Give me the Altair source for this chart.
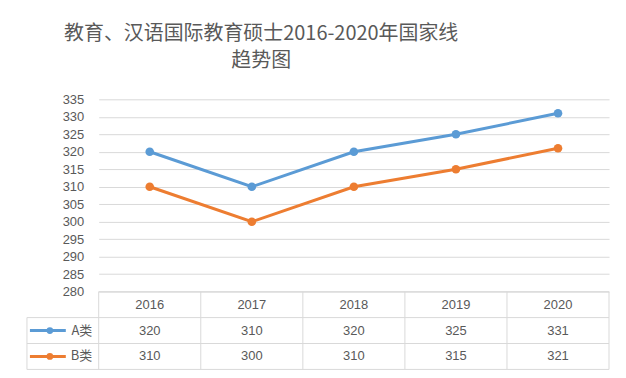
import altair as alt
import pandas as pd

years = ["2016", "2017", "2018", "2019", "2020"]
series_names = ["A类", "B类"]
a_vals = [320, 310, 320, 325, 331]
b_vals = [310, 300, 310, 315, 321]
y_ticks = [280, 285, 290, 295, 300, 305, 310, 315, 320, 325, 330, 335]
row_domain = ["header", "A类", "B类"]
title_lines = ["教育、汉语国际教育硕士2016-2020年国家线", "趋势图"]

colors = ["#5b9bd5", "#ed7d31"]
grid_c = "#d9d9d9"
txt_c = "#595959"
FONT = "Noto Sans CJK SC"
W, H, TH = 512, 193, 78

rows = []
for s, vals in zip(series_names, [a_vals, b_vals]):
    for yr, v in zip(years, vals):
        rows.append({"year": yr, "series": s, "row": s, "value": v})
df = pd.DataFrame(rows)
hdr = pd.DataFrame({"year": years, "row": ["header"] * len(years)})
ser = pd.DataFrame({"series": series_names, "row": series_names})

color_scale = alt.Scale(domain=series_names, range=colors)
col = alt.Color("series:N", scale=color_scale, legend=None)

# ---- top line chart ----
xt = alt.X("year:O", axis=None, scale=alt.Scale(domain=years, padding=0.5))
yt = alt.Y("value:Q", scale=alt.Scale(domain=[280, 335], nice=False, zero=False),
           axis=alt.Axis(values=y_ticks, grid=True, gridColor=grid_c, gridWidth=1,
                         domain=False, ticks=False, labelPadding=15, labelFontSize=13,
                         labelColor=txt_c, labelFont="Liberation Sans", title=None))
base = alt.Chart(df)
lines = base.mark_line(strokeWidth=3).encode(x=xt, y=yt, color=col)
pts = base.mark_point(filled=True, size=75, opacity=1).encode(x=xt, y=yt, color=col)
top = alt.layer(lines, pts).properties(width=W, height=H)

# ---- bottom data table ----
xb = alt.X("year:N", scale=alt.Scale(domain=years, paddingInner=0, paddingOuter=0), axis=None)
yb_axis = alt.Axis(title=None, domain=False, ticks=False, labelPadding=7, labelFontSize=13,
                   labelColor=txt_c, labelFont=FONT,
                   labelExpr="datum.value == 'header' ? '' : datum.value")
yscale = alt.Scale(domain=row_domain, paddingInner=0, paddingOuter=0)
yb = alt.Y("row:N", scale=yscale, axis=yb_axis)
yb0 = alt.Y("row:N", scale=yscale, axis=yb_axis, bandPosition=0)

txt_kw = dict(fontSize=13, color=txt_c, font="Liberation Sans")
hdr_text = alt.Chart(hdr).mark_text(**txt_kw).encode(x=xb, y=yb, text="year:N")
val_text = alt.Chart(df).mark_text(**txt_kw).encode(x=xb, y=yb, text="value:Q")

leg_line = alt.Chart(ser).mark_rule(strokeWidth=3).encode(
    x=alt.value(-69), x2=alt.value(-33), y=yb, color=col)
leg_pt = alt.Chart(ser).mark_point(filled=True, size=45, opacity=1).encode(
    x=alt.value(-49), y=yb, color=col)

rule_kw = dict(color=grid_c, strokeWidth=1)
vlines = alt.Chart(hdr).mark_rule(**rule_kw).encode(
    x=alt.X("year:N", scale=alt.Scale(domain=years, paddingInner=0, paddingOuter=0),
            axis=None, bandPosition=0),
    y=alt.value(0), y2=alt.value(TH))
vright = alt.Chart(hdr).transform_filter("datum.year == '2020'").mark_rule(**rule_kw).encode(
    x=alt.value(W), y=alt.value(0), y2=alt.value(TH))
vleft = alt.Chart(ser).transform_filter("datum.row == 'A类'").mark_rule(**rule_kw).encode(
    x=alt.value(-72), y=yb0, y2=alt.value(TH))
h_series = alt.Chart(ser).mark_rule(**rule_kw).encode(
    y=yb0, x=alt.value(-72), x2=alt.value(W))
h_header = alt.Chart(hdr).transform_filter("datum.year == '2016'").mark_rule(**rule_kw).encode(
    y=yb0, x=alt.value(0), x2=alt.value(W))
h_bottom = alt.Chart(ser).transform_filter("datum.row == 'B类'").mark_rule(**rule_kw).encode(
    y=alt.value(TH), x=alt.value(-72), x2=alt.value(W))

table = alt.layer(vlines, vright, vleft, h_series, h_header, h_bottom,
                  hdr_text, val_text, leg_line, leg_pt).properties(width=W, height=TH)

chart = alt.vconcat(top, table, spacing=0, bounds="flush").resolve_scale(
    x="independent", y="independent", color="shared"
).properties(
    title=alt.TitleParams(text=title_lines, fontSize=20, font=FONT, color=txt_c,
                          fontWeight="normal", lineHeight=27, anchor="middle",
                          dx=-57, offset=22),
    padding={"left": 18, "top": 16, "right": 8, "bottom": 2},
    background="white",
).configure_view(strokeWidth=0)

chart.save("out.html", embed_options={"renderer": "svg", "actions": False})
